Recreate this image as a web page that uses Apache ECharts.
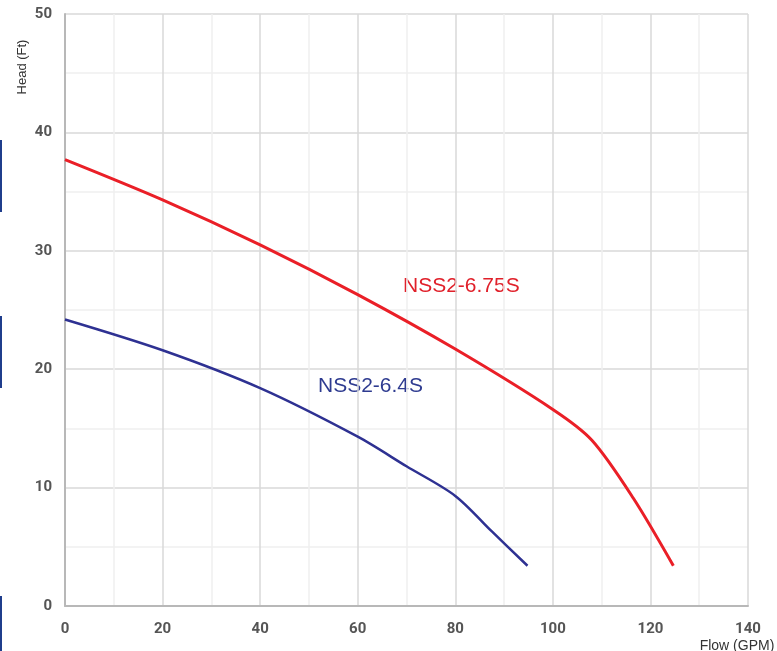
<!DOCTYPE html>
<html><head><meta charset="utf-8">
<script src="https://cdn.jsdelivr.net/npm/echarts@6/dist/echarts.min.js"></script>
<style>html,body{margin:0;padding:0;background:#fff}#c{width:777px;height:651px}</style>
</head><body><div id="c"></div>
<script>
const redName = 'NSS2-6.75S';
const blueName = 'NSS2-6.4S';
const xTitle = 'Flow (GPM)';
const yTitle = 'Head (Ft)';
const redData = [[0,37.7],[20,34.3],[40,30.5],[60,26.3],[80,21.7],[100,16.6],[108,14.0],[116.5,9.1],[124.7,3.4]];
const blueData = [[0,24.2],[20,21.6],[40,18.4],[60,14.3],[70,11.8],[80,9.3],[87.5,6.3],[94.8,3.4]];
const xTicks = [0,20,40,60,80,100,120,140];
const yTicks = [0,10,20,30,40,50];

const chart = echarts.init(document.getElementById('c'));
const lab = {color:'#555', fontWeight:'bold', fontSize:15, fontFamily:'Roboto, Arial, sans-serif'};
const narrow = '"Liberation Sans Narrow", "Arial Narrow", Arial, sans-serif';
chart.setOption({
  animation:false,
  grid:{left:65,right:29,top:14,bottom:45},
  xAxis:{type:'value',min:0,max:140,interval:20,
    axisLine:{lineStyle:{color:'#b8b8b8',width:2}},axisTick:{show:false},
    axisLabel:Object.assign({margin:16},lab),
    splitLine:{lineStyle:{color:'#d8d8d8',width:1.5}},
    minorTick:{show:false,splitNumber:2},
    minorSplitLine:{show:true,lineStyle:{color:'#efefef',width:1.5}}},
  yAxis:{type:'value',min:0,max:50,interval:10,
    axisLine:{show:true,lineStyle:{color:'#b8b8b8',width:2}},axisTick:{show:false},
    axisLabel:Object.assign({margin:13},lab),
    splitLine:{lineStyle:{color:'#d8d8d8',width:1.5}},
    minorTick:{show:false,splitNumber:2},
    minorSplitLine:{show:true,lineStyle:{color:'#efefef',width:1.5}}},
  series:[
    {name:redName,type:'line',data:redData,smooth:0.3,showSymbol:false,lineStyle:{color:'#ea1f27',width:3},z:3},
    {name:blueName,type:'line',data:blueData,smooth:0.3,showSymbol:false,lineStyle:{color:'#2e3192',width:2.5},z:3}
  ],
  graphic:[
    {type:'text',left:403,top:276,style:{text:redName,fill:'#e0202a',font:'21px '+narrow}},
    {type:'text',left:318,top:376,style:{text:blueName,fill:'#2e3b90',font:'21px '+narrow}},
    {type:'text',x:22,y:67,rotation:Math.PI/2,style:{text:yTitle,fill:'#333',font:'13px '+narrow,align:'center',verticalAlign:'middle'}},
    {type:'text',x:737,y:646,style:{text:xTitle,fill:'#333',font:'14px '+narrow,align:'center',verticalAlign:'middle'}},
    {type:'rect',shape:{x:0,y:140,width:2,height:72},style:{fill:'#1f3d8c'}},
    {type:'rect',shape:{x:0,y:316,width:2,height:72},style:{fill:'#1f3d8c'}},
    {type:'rect',shape:{x:0,y:596,width:2,height:55},style:{fill:'#1f3d8c'}}
  ]
});
</script></body></html>
